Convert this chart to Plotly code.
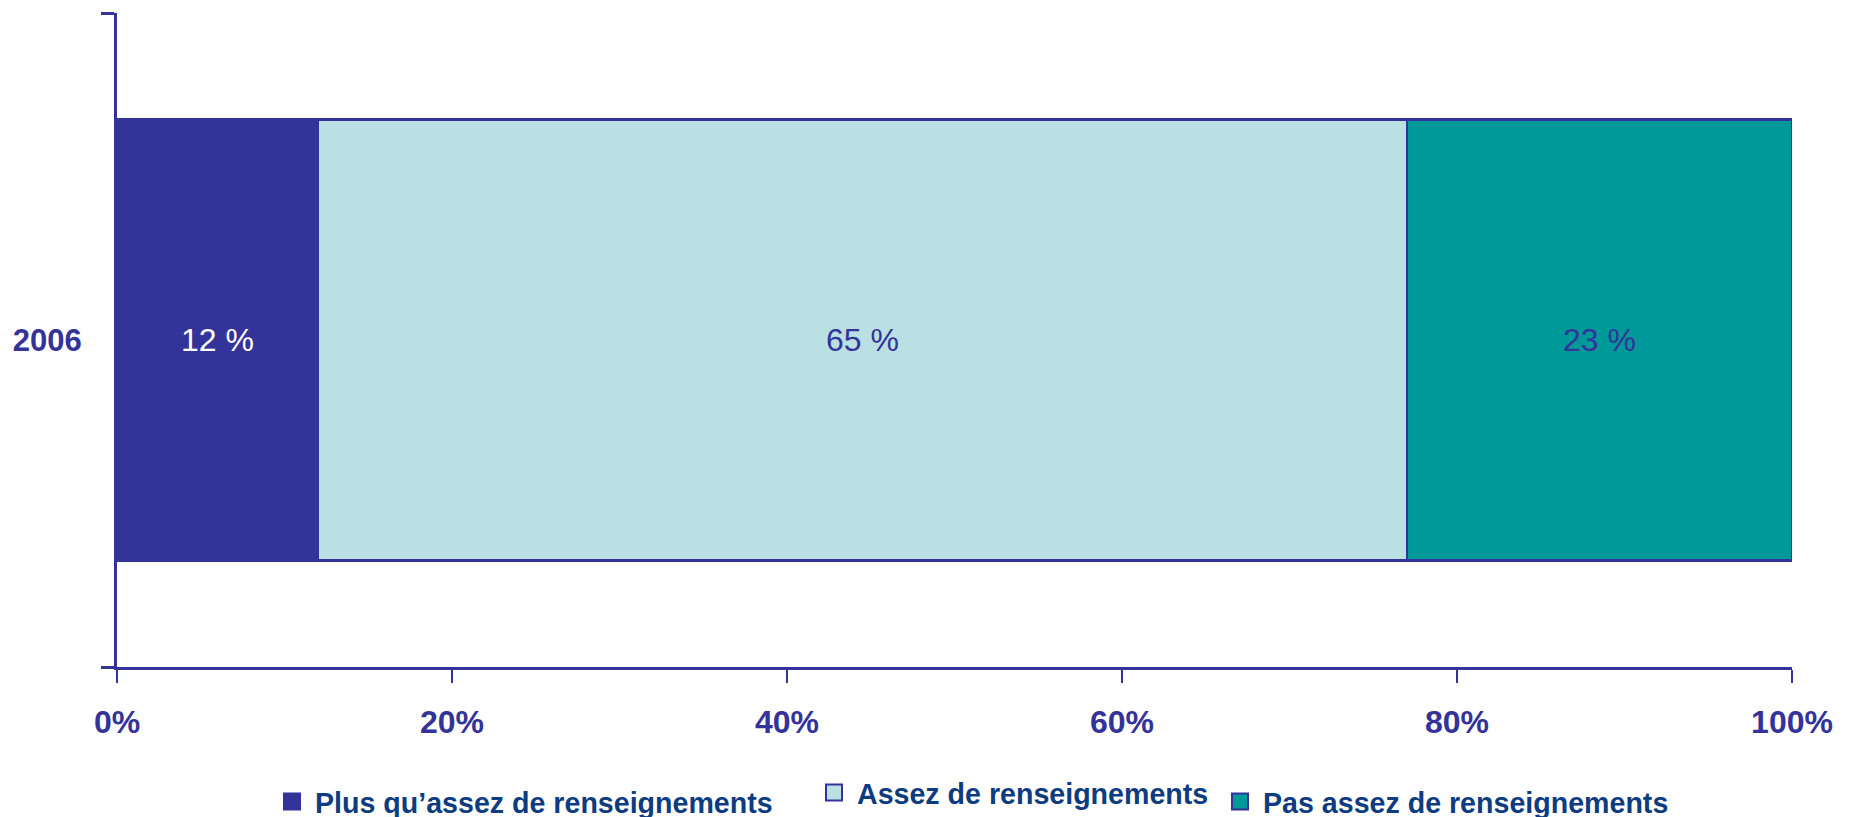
import plotly.graph_objects as go

categories = ["2006"]
series_names = ["Plus qu’assez de renseignements", "Assez de renseignements", "Pas assez de renseignements"]
plus_values = [12]
assez_values = [65]
pas_values = [23]
x_tick_values = [0, 20, 40, 60, 80, 100]
x_tick_labels = ["0%", "20%", "40%", "60%", "80%", "100%"]

NAVY = "#333399"
LIGHT = "#BBE0E3"
TEAL = "#009999"
LEGEND_TXT = "#0E3C80"
FONT = "Liberation Sans, Arial, sans-serif"

fig = go.Figure()

series = [
    (series_names[0], plus_values, NAVY, "white"),
    (series_names[1], assez_values, LIGHT, NAVY),
    (series_names[2], pas_values, TEAL, NAVY),
]
legend_ids = ["legend", "legend2", "legend3"]

for (name, vals, col, tcol), lg in zip(series, legend_ids):
    fig.add_trace(go.Bar(
        y=categories, x=vals, orientation="h", name=name,
        marker=dict(color=col, line=dict(color=NAVY, width=2.5)),
        texttemplate="%{x} %", textposition="inside", insidetextanchor="middle",
        textangle=0, constraintext="none",
        textfont=dict(family=FONT, size=32, color=tcol),
        showlegend=False, hoverinfo="skip",
    ))
    # legend proxy (no data drawn)
    fig.add_trace(go.Scatter(
        x=[None], y=[None], mode="markers", name=name, legend=lg,
        marker=dict(symbol="square", size=16, color=col, line=dict(color=NAVY, width=2)),
        showlegend=True, hoverinfo="skip",
    ))

fig.update_layout(
    barmode="stack",
    bargap=0.326,
    width=1849, height=817,
    margin=dict(l=109, r=65, t=5, b=158),
    paper_bgcolor="white", plot_bgcolor="white",
    xaxis=dict(
        range=[0, 100], tickvals=x_tick_values, ticktext=x_tick_labels,
        showgrid=False, zeroline=False, showline=True, linecolor=NAVY, linewidth=3,
        ticks="outside", ticklen=13, tickwidth=2, tickcolor=NAVY,
        tickfont=dict(family=FONT, size=32, color=NAVY, weight="bold"),
        ticklabelstandoff=12, automargin=False,
    ),
    yaxis=dict(
        type="category", range=[-0.5, 0.5], tickson="boundaries",
        showgrid=False, zeroline=False, showline=True, linecolor=NAVY, linewidth=3,
        ticks="outside", ticklen=13, tickwidth=3, tickcolor=NAVY,
        tickfont=dict(family=FONT, size=31, color=NAVY, weight="bold"),
        ticklabelstandoff=26, automargin=False,
    ),
    showlegend=True,
)

leg_common = dict(orientation="h", xref="container", yref="container",
                  xanchor="left", yanchor="middle", bgcolor="rgba(0,0,0,0)",
                  font=dict(family=FONT, size=28.6, color=LEGEND_TXT, weight="bold"),
                  itemwidth=36)
fig.update_layout(
    legend=dict(x=261/1849, y=1 - 794/817, **leg_common),
    legend2=dict(x=803/1849, y=1 - 785/817, **leg_common),
    legend3=dict(x=1209/1849, y=1 - 794/817, **leg_common),
)

fig.write_html("out.html")
